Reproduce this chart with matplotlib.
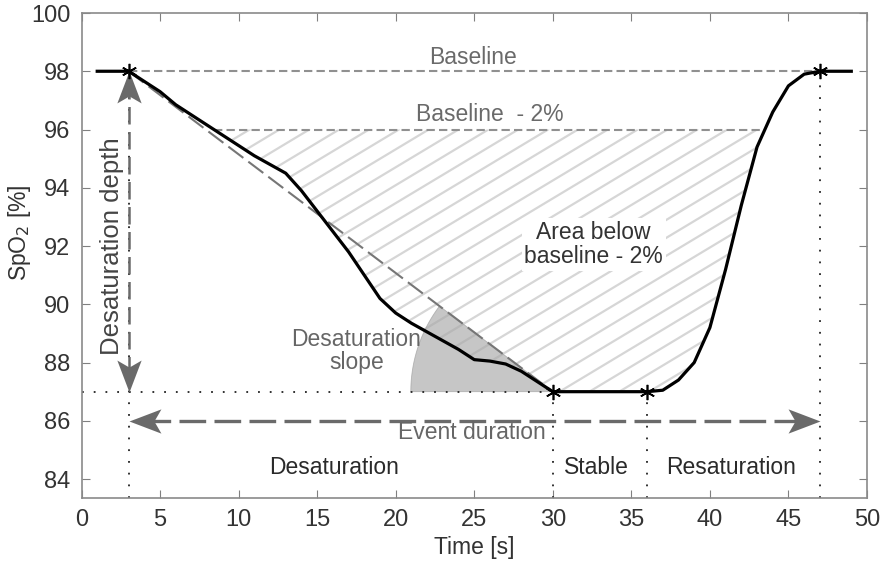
import numpy as np
import matplotlib
matplotlib.use("Agg")
import matplotlib.pyplot as plt
from matplotlib.path import Path
from matplotlib.patches import Polygon

# SpO2 trace (1 s samples)
time_s = [1, 2, 3, 4, 5, 6, 7, 8, 9, 10, 11, 12, 13, 14, 15, 16, 17, 18, 19, 20,
          21, 22, 23, 24, 25, 26, 27, 28, 29, 30, 31, 32, 33, 34, 35, 36, 37, 38,
          39, 40, 41, 42, 43, 44, 45, 46, 47, 48, 49]
spo2 = [98, 98, 98, 97.65, 97.3, 96.85, 96.5, 96.15, 95.8, 95.45, 95.1, 94.8,
        94.5, 93.9, 93.2, 92.5, 91.8, 91.0, 90.2, 89.7, 89.35, 89.05, 88.75,
        88.45, 88.1, 88.05, 87.95, 87.7, 87.35, 87.0, 87, 87, 87, 87, 87, 87,
        87.05, 87.4, 88.0, 89.2, 91.2, 93.4, 95.4, 96.6, 97.5, 97.9, 98, 98, 98]

baseline = 98
threshold = 96
event_start, nadir_t, stable_end, event_end = 3, 30, 36, 47
nadir = 87
duration_y = 86
key_t = [event_start, nadir_t, stable_end, event_end]
key_v = [baseline, nadir, nadir, baseline]

phase_labels = ["Desaturation", "Stable", "Resaturation"]
phase_x = [16.1, 32.8, 41.35]

plt.rcParams["font.family"] = ["Liberation Sans", "DejaVu Sans"]

fig = plt.figure(figsize=(8.84, 5.62), dpi=100)
ax = fig.add_axes([81.5 / 884, 1 - 498 / 562, 785.5 / 884, 485 / 562])
ax.set_xlim(0, 50)
ax.set_ylim(83.35, 100)

# pixel scale of the data axes
sx = 785.5 / 50
sy = 485 / (100 - 83.35)

t = np.array(time_s, dtype=float)
v = np.array(spo2, dtype=float)

# area below baseline - 2 %, with slanted hatching
fill = ax.fill_between(t, v, threshold, where=v <= threshold, interpolate=True,
                       facecolor="none", edgecolor="none")
clip = fill.get_paths()[0]
k = np.tan(np.radians(31)) * sx / sy
for x0 in np.arange(5, 80, 1.9):
    xs = np.array([x0 - 40, x0])
    ln, = ax.plot(xs, threshold + k * (xs - x0), color="#d6d6d6", lw=1.6, zorder=1)
    ln.set_clip_path(clip, ax.transData)

# left/right crossings of the 96 % level
x_left = np.interp(threshold, v[:15][::-1], t[:15][::-1])
x_right = np.interp(threshold, v[36:], t[36:])
ax.plot([x_left, x_right], [threshold, threshold], color="#909090", lw=1.5,
        dashes=(4, 2), zorder=2)
ax.plot([event_start, event_end], [baseline, baseline], color="#909090", lw=1.5,
        dashes=(4, 2), zorder=2)

# desaturation slope line and angle wedge
ax.plot([event_start, nadir_t], [baseline, nadir], color="#767676", lw=1.5,
        dashes=(9, 3), zorder=3)
ang = np.arctan2((baseline - nadir) * sy, (nadir_t - event_start) * sx)
th = np.linspace(np.pi - ang, np.pi, 60)
r_px = 142
wx = np.concatenate([[nadir_t], nadir_t + r_px * np.cos(th) / sx])
wy = np.concatenate([[nadir], nadir + r_px * np.sin(th) / sy])
ax.add_patch(Polygon(np.column_stack([wx, wy]), closed=True, facecolor="#a8a8a8",
                     edgecolor="#9a9a9a", lw=0.6, alpha=0.65, zorder=2))

# dotted guides
dot = dict(color="#222222", lw=1.3, linestyle=(0, (1, 5.5)), zorder=2)
ax.plot([0, nadir_t], [nadir, nadir], **dot)
for xt, yt in zip(key_t, key_v):
    ax.plot([xt, xt], [83.35, yt], **dot)

# SpO2 curve and key points
ax.plot(t, v, color="black", lw=2.3, zorder=5)
ax.plot(key_t, key_v, linestyle="none", marker=(6, 2, 0), ms=11, mew=1.2,
        color="black", zorder=6)


def head(direction):
    verts = np.array([(0, 0), (-1, 0.38), (-0.78, 0), (-1, -0.38), (0, 0)])
    rot = {"right": 0, "up": 90, "left": 180, "down": 270}[direction]
    a = np.radians(rot)
    r = np.array([[np.cos(a), -np.sin(a)], [np.sin(a), np.cos(a)]])
    codes = [Path.MOVETO, Path.LINETO, Path.LINETO, Path.LINETO, Path.CLOSEPOLY]
    return Path(verts @ r.T, codes)


arrow_col = "#6a6a6a"
# desaturation depth arrow
ax.plot([event_start, event_start], [nadir + 0.6, baseline - 0.6], color=arrow_col,
        lw=1.8, dashes=(7, 3), zorder=3)
ax.plot(event_start, baseline, marker=head("up"), ms=46, color=arrow_col,
        mew=0, zorder=4)
ax.plot(event_start, nadir, marker=head("down"), ms=46, color=arrow_col,
        mew=0, zorder=4)
# event duration arrow
ax.plot([event_start + 1, event_end - 1], [duration_y, duration_y], color=arrow_col,
        lw=2.4, dashes=(8, 2.5), zorder=3)
ax.plot(event_start, duration_y, marker=head("left"), ms=46, color=arrow_col,
        mew=0, zorder=4)
ax.plot(event_end, duration_y, marker=head("right"), ms=46, color=arrow_col,
        mew=0, zorder=4)

# annotations
fs = 16.5
ax.text(24.9, 98.48, "Baseline", color="#6a6a6a", fontsize=fs, ha="center", va="center")
ax.text(26.0, 96.52, "Baseline  - 2%", color="#6a6a6a", fontsize=fs, ha="center",
        va="center")
ax.text(32.6, 92.05, "Area below\nbaseline - 2%", color="#333333", fontsize=fs,
        ha="center", va="center", linespacing=1.05, zorder=7,
        bbox=dict(facecolor="white", edgecolor="none", pad=2))
ax.text(17.5, 88.41, "Desaturation\nslope", color="#666666", fontsize=fs,
        ha="center", va="center", linespacing=1.0, zorder=7)
ax.text(1.95, 92.0, "Desaturation depth", color="#444444", fontsize=18.5,
        rotation=90, ha="center", va="center", zorder=7)
ax.text(24.85, 85.6, "Event duration", color="#666666", fontsize=fs,
        ha="center", va="center", zorder=7)
for lab, xp in zip(phase_labels, phase_x):
    ax.text(xp, 84.39, lab, color="#2a2a2a", fontsize=fs, ha="center", va="center")

# axes styling
ax.set_xticks(range(0, 51, 5))
ax.set_yticks(range(84, 101, 2))
ax.tick_params(direction="in", length=6, top=True, right=True, color="#808080",
               labelsize=17, labelcolor="#333333", pad=8)
for s in ax.spines.values():
    s.set_color("#8a8a8a")
    s.set_linewidth(1.2)
ax.set_xlabel("Time [s]", fontsize=16.5, color="#333333")
ax.set_ylabel("SpO$_2$ [%]", fontsize=16.5, color="#333333")
ax.xaxis.set_label_coords(0.5, -0.078)
ax.yaxis.set_label_coords(-0.062, 0.548)

fig.savefig("out.png", dpi=100)
